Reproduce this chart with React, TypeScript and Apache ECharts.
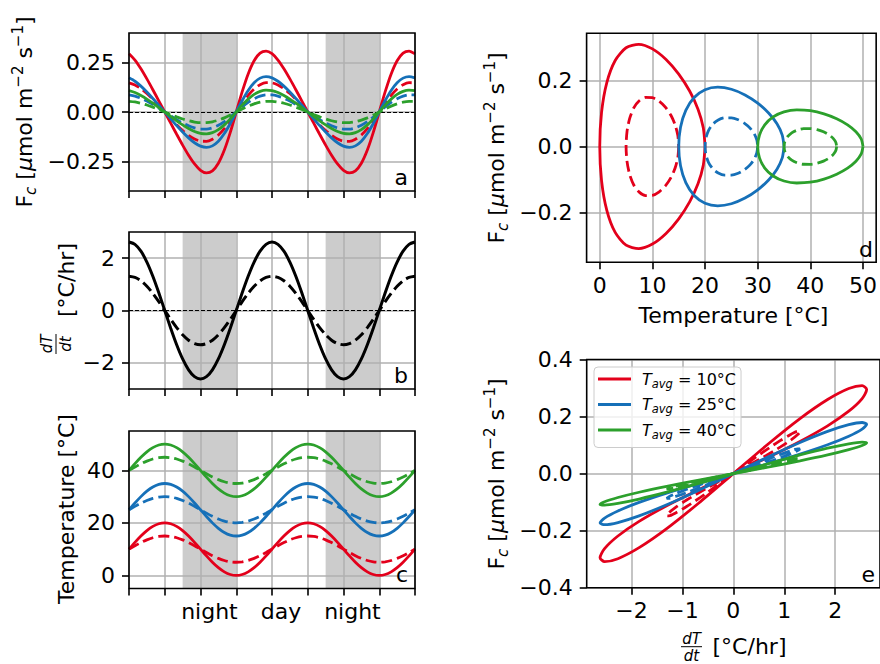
import React, { useEffect, useRef } from 'react';
import * as echarts from 'echarts';

// ---------- data ----------
const hours = [0, 1, 2, 3, 4, 5, 6, 7, 8, 9, 10, 11, 12, 13, 14, 15, 16, 17, 18, 19, 20, 21, 22, 23, 24,
  25, 26, 27, 28, 29, 30, 31, 32, 33, 34, 35, 36, 37, 38, 39, 40, 41, 42, 43, 44, 45, 46, 47, 48];
const timeTicks = [0, 6, 12, 18, 24, 30, 36, 42, 48];
const periodLabelHours = [13.5, 25.5, 37.5];
const periodLabels = ['night', 'day', 'night'];
const nightBands = [[9, 18], [33, 42]];

// one diurnal cycle, hourly from t = 0 to t = 24 (the figure repeats it for a second day)
const tempRedSolidDay = [10, 12.59, 15, 17.07, 18.66, 19.66, 20, 19.66, 18.66, 17.07, 15, 12.59, 10, 7.41, 5, 2.93, 1.34, 0.34, 0, 0.34, 1.34, 2.93, 5, 7.41, 10];
const tempRedDashDay = [10, 11.29, 12.5, 13.54, 14.33, 14.83, 15, 14.83, 14.33, 13.54, 12.5, 11.29, 10, 8.71, 7.5, 6.46, 5.67, 5.17, 5, 5.17, 5.67, 6.46, 7.5, 8.71, 10];
const tempBlueSolidDay = [25, 27.59, 30, 32.07, 33.66, 34.66, 35, 34.66, 33.66, 32.07, 30, 27.59, 25, 22.41, 20, 17.93, 16.34, 15.34, 15, 15.34, 16.34, 17.93, 20, 22.41, 25];
const tempBlueDashDay = [25, 26.29, 27.5, 28.54, 29.33, 29.83, 30, 29.83, 29.33, 28.54, 27.5, 26.29, 25, 23.71, 22.5, 21.46, 20.67, 20.17, 20, 20.17, 20.67, 21.46, 22.5, 23.71, 25];
const tempGreenSolidDay = [40, 42.59, 45, 47.07, 48.66, 49.66, 50, 49.66, 48.66, 47.07, 45, 42.59, 40, 37.41, 35, 32.93, 31.34, 30.34, 30, 30.34, 31.34, 32.93, 35, 37.41, 40];
const tempGreenDashDay = [40, 41.29, 42.5, 43.54, 44.33, 44.83, 45, 44.83, 44.33, 43.54, 42.5, 41.29, 40, 38.71, 37.5, 36.46, 35.67, 35.17, 35, 35.17, 35.67, 36.46, 37.5, 38.71, 40];

const dTdtSolidDay = [2.618, 2.529, 2.267, 1.851, 1.309, 0.678, 0, -0.678, -1.309, -1.851, -2.267, -2.529, -2.618, -2.529, -2.267, -1.851, -1.309, -0.678, 0, 0.678, 1.309, 1.851, 2.267, 2.529, 2.618];
const dTdtDashDay = [1.309, 1.264, 1.134, 0.926, 0.654, 0.339, 0, -0.339, -0.654, -0.926, -1.134, -1.264, -1.309, -1.264, -1.134, -0.926, -0.654, -0.339, 0, 0.339, 0.654, 0.926, 1.134, 1.264, 1.309];

const fcRedSolidDay = [0.295, 0.263, 0.2188, 0.1675, 0.1128, 0.0566, 0, -0.0566, -0.1128, -0.1675, -0.2188, -0.263, -0.295, -0.3087, -0.2983, -0.2597, -0.1929, -0.103, 0, 0.103, 0.1929, 0.2597, 0.2983, 0.3087, 0.295];
const fcRedDashDay = [0.1475, 0.1369, 0.1182, 0.0935, 0.0645, 0.0329, 0, -0.0329, -0.0645, -0.0935, -0.1182, -0.1369, -0.1475, -0.1483, -0.138, -0.1164, -0.0843, -0.0443, 0, 0.0443, 0.0843, 0.1164, 0.138, 0.1483, 0.1475];
const fcBlueSolidDay = [0.173, 0.1558, 0.1309, 0.1011, 0.0685, 0.0345, 0, -0.0345, -0.0685, -0.1011, -0.1309, -0.1558, -0.173, -0.1792, -0.1715, -0.1481, -0.1093, -0.0581, 0, 0.0581, 0.1093, 0.1481, 0.1715, 0.1792, 0.173];
const fcBlueDashDay = [0.0865, 0.0807, 0.07, 0.0556, 0.0385, 0.0197, 0, -0.0197, -0.0385, -0.0556, -0.07, -0.0807, -0.0865, -0.0865, -0.0801, -0.0673, -0.0486, -0.0255, 0, 0.0255, 0.0486, 0.0673, 0.0801, 0.0865, 0.0865];
const fcGreenSolidDay = [0.108, 0.0985, 0.0838, 0.0654, 0.0446, 0.0226, 0, -0.0226, -0.0446, -0.0654, -0.0838, -0.0985, -0.108, -0.1104, -0.1044, -0.0892, -0.0653, -0.0346, 0, 0.0346, 0.0653, 0.0892, 0.1044, 0.1104, 0.108];
const fcGreenDashDay = [0.054, 0.0507, 0.0443, 0.0353, 0.0245, 0.0126, 0, -0.0126, -0.0245, -0.0353, -0.0443, -0.0507, -0.054, -0.0537, -0.0494, -0.0413, -0.0297, -0.0155, 0, 0.0155, 0.0297, 0.0413, 0.0494, 0.0537, 0.054];

const legendTemps = [10, 25, 40];
const fcTicksA = [-0.25, 0, 0.25];
const dTdtTicks = [-2, 0, 2];
const tempTicks = [0, 20, 40];
const tempTicksD = [0, 10, 20, 30, 40, 50];
const fcTicksD = [-0.2, 0, 0.2];
const dTdtTicksE = [-2, -1, 0, 1, 2];
const fcTicksE = [-0.4, -0.2, 0, 0.2, 0.4];

// ---------- styling ----------
const FONT = 'DejaVu Sans';
const RED = '#e3001b';
const BLUE = '#1670b8';
const GREEN = '#2ca02c';
const GRID_LINE = '#b0b0b0';

const twoDays = (d: number[]) => d.concat(d.slice(1));
const series48 = (d: number[]) => { const v = twoDays(d); return hours.map((h, i) => [h, v[i]]); };
const loop = (xs: number[], ys: number[]) => {
  const x = twoDays(xs).slice(6, 31);
  const y = twoDays(ys).slice(6, 31);
  return x.map((v, i) => [v, y[i]]);
};
const minus = (s: string) => s.replace('-', '\u2212');

const groups = [
  { color: RED, name: 'Tavg10', tS: tempRedSolidDay, tD: tempRedDashDay, fS: fcRedSolidDay, fD: fcRedDashDay },
  { color: BLUE, name: 'Tavg25', tS: tempBlueSolidDay, tD: tempBlueDashDay, fS: fcBlueSolidDay, fD: fcBlueDashDay },
  { color: GREEN, name: 'Tavg40', tS: tempGreenSolidDay, tD: tempGreenDashDay, fS: fcGreenSolidDay, fD: fcGreenDashDay },
];

function line(name: string, gi: number, data: number[][], color: string, dashed: boolean, width = 2.8) {
  return {
    type: 'line', name, xAxisIndex: gi, yAxisIndex: gi, data, color,
    showSymbol: false, symbol: 'none', smooth: 0.25, silent: true, z: 3,
    itemStyle: { color },
    lineStyle: { color, width, type: dashed ? [11, 5] : 'solid' },
  };
}

function decor(gi: number, zero: boolean) {
  const s: any = {
    type: 'line', xAxisIndex: gi, yAxisIndex: gi, data: [], silent: true, z: 1,
    markArea: {
      silent: true, z: 1,
      itemStyle: { color: 'rgba(176,176,176,0.646)' },
      data: nightBands.map(([a, b]) => [{ xAxis: a }, { xAxis: b }]),
    },
  };
  if (zero) {
    s.markLine = {
      silent: true, z: 2, symbol: 'none', label: { show: false },
      lineStyle: { color: '#000', width: 1, type: [4, 2] },
      data: [{ yAxis: 0 }],
    };
  }
  return s;
}

const tick = (vals: number[]) => ({ show: true, inside: false, length: 7, customValues: vals, lineStyle: { color: '#000', width: 1.6 } });
const split = { show: true, lineStyle: { color: GRID_LINE, width: 1.5 } };
const lab = (vals: number[] | null, fmt: (v: number) => string, margin = 14) =>
  vals ? { show: true, customValues: vals, formatter: fmt, fontFamily: FONT, fontSize: 22, color: '#000', margin } : { show: false };

function grid(left: number, top: number, width: number, height: number) {
  return { left, top, width, height, show: true, z: 10, borderColor: '#000', borderWidth: 1.6, backgroundColor: 'rgba(0,0,0,0)' };
}

function valueAxis(gi: number, min: number, max: number, ticks: number[], labels: any) {
  return {
    type: 'value', gridIndex: gi, min, max,
    axisLine: { show: false, onZero: false },
    axisTick: tick(ticks), splitLine: split, axisLabel: labels,
  };
}

const fcRich = {
  n: { fontSize: 22, fontFamily: FONT, fill: '#000' },
  sub: { fontSize: 15, fontFamily: FONT, fontStyle: 'italic', fill: '#000', padding: [13, 0, 0, 0] },
  sup: { fontSize: 15, fontFamily: FONT, fill: '#000', padding: [0, 0, 13, 0] },
  it: { fontSize: 22, fontFamily: FONT, fontStyle: 'italic', fill: '#000' },
};
const fcTitle = '{n|F}{sub|c}{n| [}{it|\u03bc}{n|mol m}{sup|\u22122}{n| s}{sup|\u22121}{n|]}';

const txt = (x: number, y: number, text: string, extra: any = {}, rot = 0) => ({
  type: 'text', x, y, rotation: rot, z: 30, silent: true,
  style: { text, fontFamily: FONT, fontSize: 22, fill: '#000', align: 'center', verticalAlign: 'middle', ...extra },
});
const bar = (x1: number, y1: number, x2: number, y2: number) => ({
  type: 'line', z: 30, silent: true, shape: { x1, y1, x2, y2 }, style: { stroke: '#000', lineWidth: 1 },
});
const R = Math.PI / 2;

function buildOption() {
  const series: any[] = [];
  // panel a
  series.push(decor(0, true));
  groups.forEach(g => {
    series.push(line('a-s-' + g.name, 0, series48(g.fS), g.color, false));
    series.push(line('a-d-' + g.name, 0, series48(g.fD), g.color, true));
  });
  // panel b
  series.push(decor(1, true));
  series.push(line('b-s', 1, series48(dTdtSolidDay), '#000', false, 3));
  series.push(line('b-d', 1, series48(dTdtDashDay), '#000', true, 3));
  // panel c
  series.push(decor(2, false));
  groups.forEach(g => {
    series.push(line('c-s-' + g.name, 2, series48(g.tS), g.color, false));
    series.push(line('c-d-' + g.name, 2, series48(g.tD), g.color, true));
  });
  // panel d
  groups.forEach(g => {
    series.push(line('d-s-' + g.name, 3, loop(g.tS, g.fS), g.color, false));
    series.push(line('d-d-' + g.name, 3, loop(g.tD, g.fD), g.color, true));
  });
  // panel e
  groups.forEach(g => {
    series.push(line(g.name, 4, loop(dTdtSolidDay, g.fS), g.color, false));
    series.push(line('e-d-' + g.name, 4, loop(dTdtDashDay, g.fD), g.color, true));
  });

  return {
    animation: false,
    backgroundColor: '#fff',
    grid: [
      grid(129, 33, 286, 158),
      grid(129, 232, 286, 157),
      grid(129, 431, 286, 157.5),
      grid(586.6, 33.3, 294, 229),
      grid(586.7, 359.5, 294, 228.2),
    ],
    xAxis: [
      valueAxis(0, 0, 48, timeTicks, { show: false }),
      valueAxis(1, 0, 48, timeTicks, { show: false }),
      valueAxis(2, 0, 48, timeTicks, lab(periodLabelHours, (v: number) => periodLabels[periodLabelHours.indexOf(v)], 12)),
      valueAxis(3, -2.5, 52.5, tempTicksD, lab(tempTicksD, (v: number) => String(v), 12)),
      valueAxis(4, -2.88, 2.88, dTdtTicksE, lab(dTdtTicksE, (v: number) => minus(String(v)), 12)),
    ],
    yAxis: [
      valueAxis(0, -0.4, 0.4, fcTicksA, lab(fcTicksA, (v: number) => minus(v.toFixed(2)))),
      valueAxis(1, -3, 3, dTdtTicks, lab(dTdtTicks, (v: number) => minus(String(v)))),
      valueAxis(2, -5, 55, tempTicks, lab(tempTicks, (v: number) => String(v))),
      valueAxis(3, -0.35, 0.342, fcTicksD, lab(fcTicksD, (v: number) => minus(v.toFixed(1)))),
      valueAxis(4, -0.4, 0.4, fcTicksE, lab(fcTicksE, (v: number) => minus(v.toFixed(1)))),
    ],
    legend: {
      data: groups.map(g => g.name),
      orient: 'vertical', left: 594, top: 367, z: 20,
      icon: 'rect', itemWidth: 33, itemHeight: 3, itemGap: 7,
      padding: [4, 5, 7, 4],
      backgroundColor: 'rgba(255,255,255,0.8)', borderColor: '#cccccc', borderWidth: 1, borderRadius: 4,
      selectedMode: false,
      formatter: (name: string) => `{t|T}{s|avg}{n| = ${legendTemps[groups.findIndex(g => g.name === name)]}\u00b0C}`,
      textStyle: {
        fontFamily: FONT, fontSize: 16, color: '#000',
        rich: {
          t: { fontFamily: FONT, fontSize: 16, fontStyle: 'italic', color: '#000', padding: [0, 0, 0, 6] },
          s: { fontFamily: FONT, fontSize: 11.5, fontStyle: 'italic', color: '#000', padding: [9, 0, 0, 0] },
          n: { fontFamily: FONT, fontSize: 16, color: '#000' },
        },
      },
    },
    graphic: [
      // axis titles
      txt(24, 112, fcTitle, { rich: fcRich }, R),
      txt(66, 280, '[\u00b0C/hr]', {}, R),
      txt(47, 344, 'dT', { fontSize: 15, fontStyle: 'italic' }, R),
      txt(66, 344, 'dt', { fontSize: 15, fontStyle: 'italic' }, R),
      bar(56, 334, 56, 354),
      txt(66, 509, 'Temperature [\u00b0C]', {}, R),
      txt(496, 148, fcTitle, { rich: fcRich }, R),
      txt(733.5, 315, 'Temperature [\u00b0C]'),
      txt(496, 474, fcTitle, { rich: fcRich }, R),
      txt(749.5, 646.5, '[\u00b0C/hr]'),
      txt(691.5, 639, 'dT', { fontSize: 15, fontStyle: 'italic' }),
      txt(691.5, 655.5, 'dt', { fontSize: 15, fontStyle: 'italic' }),
      bar(681, 646.7, 702, 646.7),
      // panel letters
      txt(408, 177.5, 'a', { align: 'right' }),
      txt(408, 375.5, 'b', { align: 'right' }),
      txt(408, 574.5, 'c', { align: 'right' }),
      txt(873, 249.5, 'd', { align: 'right' }),
      txt(875, 574.5, 'e', { align: 'right' }),
    ],
    series,
  };
}

export default function App() {
  const ref = useRef<HTMLDivElement>(null);
  useEffect(() => {
    const chart = echarts.init(ref.current as HTMLDivElement, undefined, { renderer: 'svg' });
    chart.setOption(buildOption() as any);
    return () => chart.dispose();
  }, []);
  return <div ref={ref} style={{ position: 'absolute', left: 0, top: 0, width: 880, height: 664, background: '#fff' }} />;
}
